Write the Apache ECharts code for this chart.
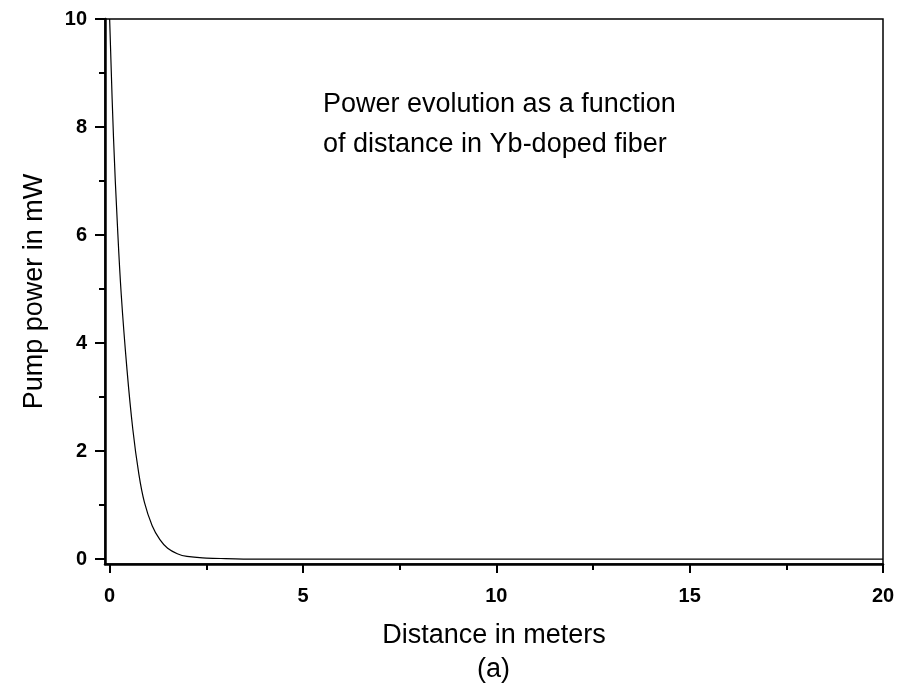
<!DOCTYPE html>
<html>
<head>
<meta charset="utf-8">
<script src="https://cdn.jsdelivr.net/npm/echarts@6/dist/echarts.min.js"></script>
<style>html,body{margin:0;padding:0;background:#fff}#c{width:903px;height:698px}</style>
</head>
<body>
<div id="c"></div>
<script>
// Data
const distance = [0, 0.1, 0.2, 0.3, 0.45, 0.6, 0.75, 0.9, 1.1, 1.3, 1.5, 1.75, 2.0, 2.5, 3, 4, 5, 7.5, 10, 12.5, 15, 17.5, 20];
const pumpPower = [10, 7.8, 6.2, 4.9, 3.5, 2.4, 1.6, 1.05, 0.62, 0.36, 0.2, 0.1, 0.05, 0.02, 0.01, 0, 0, 0, 0, 0, 0, 0, 0];
const xMajorTicks = [0, 5, 10, 15, 20];
const xMinorTicks = [2.5, 7.5, 12.5, 17.5];
const yMajorTicks = [0, 2, 4, 6, 8, 10];
const yMinorTicks = [1, 3, 5, 7, 9];
const xTitle = 'Distance in meters';
const yTitle = 'Pump power in mW';
const annotation = ['Power evolution as a function', 'of distance in Yb-doped fiber'];
const panelLabel = '(a)';

const FONT = '"Liberation Sans", Arial, sans-serif';
const xMin = -0.12, xMax = 20, yMin = -0.09, yMax = 10;

const chart = echarts.init(document.getElementById('c'), null, {renderer: 'canvas'});
const baseX = {type: 'value', min: xMin, max: xMax, position: 'bottom', splitLine: {show: false}};
const baseY = {type: 'value', min: yMin, max: yMax, position: 'left', splitLine: {show: false}};
chart.setOption({
  animation: false,
  backgroundColor: '#fff',
  grid: {left: 105, right: 20, top: 19, bottom: 134, show: true, borderColor: '#000', borderWidth: 1.5, containLabel: false},
  xAxis: [
    Object.assign({}, baseX, {
      name: xTitle, nameLocation: 'middle', nameGap: 58,
      nameTextStyle: {fontFamily: FONT, fontSize: 27, color: '#000'},
      axisLine: {show: true, onZero: false, lineStyle: {color: '#000', width: 2.5}},
      axisTick: {show: true, customValues: xMajorTicks, length: 9, lineStyle: {color: '#000', width: 2}},
      axisLabel: {show: true, customValues: xMajorTicks, margin: 22, fontFamily: FONT, fontSize: 20, fontWeight: 'bold', color: '#000'}
    }),
    Object.assign({}, baseX, {
      axisLine: {show: false, onZero: false},
      axisTick: {show: true, customValues: xMinorTicks, length: 6, lineStyle: {color: '#000', width: 2}},
      axisLabel: {show: false}
    })
  ],
  yAxis: [
    Object.assign({}, baseY, {
      name: yTitle, nameLocation: 'middle', nameGap: 57,
      nameTextStyle: {fontFamily: FONT, fontSize: 27, color: '#000'},
      axisLine: {show: true, onZero: false, lineStyle: {color: '#000', width: 2.5}},
      axisTick: {show: true, customValues: yMajorTicks, length: 10, lineStyle: {color: '#000', width: 2}},
      axisLabel: {show: true, customValues: yMajorTicks, margin: 18, fontFamily: FONT, fontSize: 20, fontWeight: 'bold', color: '#000'}
    }),
    Object.assign({}, baseY, {
      axisLine: {show: false, onZero: false},
      axisTick: {show: true, customValues: yMinorTicks, length: 6, lineStyle: {color: '#000', width: 2}},
      axisLabel: {show: false}
    })
  ],
  series: [{
    type: 'line',
    xAxisIndex: 0, yAxisIndex: 0,
    data: distance.map((d, i) => [d, pumpPower[i]]),
    smooth: 0.4,
    showSymbol: false,
    lineStyle: {color: '#000', width: 1.2},
    clip: true
  }],
  graphic: [
    {type: 'text', left: 323, top: 85, style: {text: annotation.join('\n'), font: '27px ' + FONT, lineHeight: 40, fill: '#000'}},
    {type: 'text', left: 477, top: 656, style: {text: panelLabel, font: '27px ' + FONT, fill: '#000'}}
  ]
});
</script>
</body>
</html>
